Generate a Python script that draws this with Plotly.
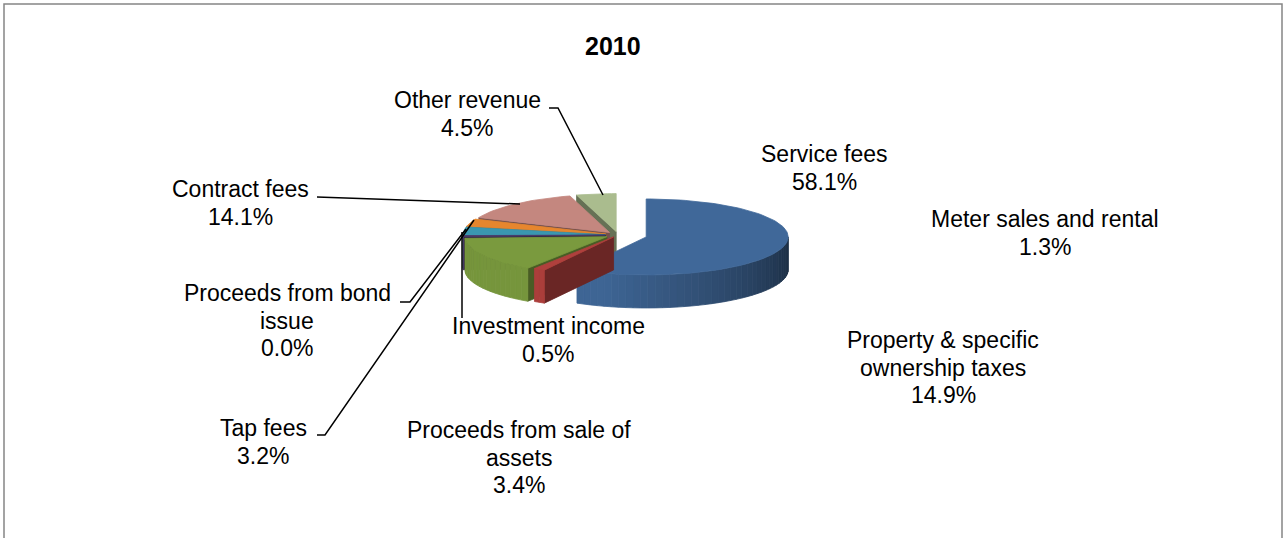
import math
import numpy as np
import plotly.graph_objects as go

# ---------------- data ----------------
title_text = "2010"
categories = [
    "Service fees",
    "Meter sales and rental",
    "Property & specific<br>ownership taxes",
    "Investment income",
    "Proceeds from sale of<br>assets",
    "Tap fees",
    "Proceeds from bond<br>issue",
    "Contract fees",
    "Other revenue",
]
shares = [58.1, 1.3, 14.9, 0.5, 3.4, 3.2, 0.0, 14.1, 4.5]
slice_colors = ["#406899", "#B0403D", "#7A9A3E", "#4B3B6B", "#3A97B0",
                "#E6862E", "#2C4D75", "#C4877F", "#AABC8E"]

# ---------------- layout / geometry parameters ----------------
W, H = 1286, 538
CX, CY, RX, RY, DEPTH = 618, 235, 142, 38, 33
explode = [0.205, 0.06, 0.09, 0.09, 0.09, 0.09, 0.09, 0.09, 0.09]
FONT = "Liberation Sans, Arial, sans-serif"
LINE_H = 27.5
label_pos = {
    0: (824, 154), 1: (1045, 219), 2: (943, 340), 3: (548, 326),
    4: (519, 430), 5: (263, 428), 6: (287, 293), 7: (240, 189), 8: (467, 100),
}
leader_paths = [
    "M549,108 L558,108 L603,195",
    "M317,197 L520,204",
    "M400,302 L410,302 L466,229",
    "M317,435 L325,435 L474,220",
    "M462,318 L462,232",
]


def hex_rgb(h):
    h = h.lstrip("#")
    return [int(h[i:i + 2], 16) for i in (0, 2, 4)]


def shade(h, f):
    r, g, b = hex_rgb(h)
    return "rgb(%d,%d,%d)" % tuple(max(0, min(255, round(c * f))) for c in (r, g, b))


def wall_factor(theta):
    t = (theta - 90.0) / 180.0
    return min(0.97, 0.42 + 0.55 * t / 0.6)


total = sum(shares)
bounds = np.concatenate([[0.0], np.cumsum(shares)]) / total * 360.0

fig = go.Figure()


def poly(pts, color):
    xs = [p[0] for p in pts] + [pts[0][0]]
    ys = [p[1] for p in pts] + [pts[0][1]]
    fig.add_trace(go.Scatter(x=xs, y=ys, mode="lines", fill="toself",
                             fillcolor=color, line=dict(color=color, width=0.8),
                             hoverinfo="skip", showlegend=False))


def project(U, V, h):
    return (CX + RX * U, CY - RY * V + h * DEPTH)


mids = [(bounds[i] + bounds[i + 1]) / 2 for i in range(len(shares))]
order = sorted([i for i in range(len(shares)) if shares[i] > 0],
               key=lambda i: -math.cos(math.radians(mids[i])))

for i in order:
    a, b = bounds[i], bounds[i + 1]
    m = math.radians(mids[i])
    oU, oV = explode[i] * math.sin(m), explode[i] * math.cos(m)

    def rim(th, h):
        r = math.radians(th)
        return project(oU + math.sin(r), oV + math.cos(r), h)

    def ctr(h):
        return project(oU, oV, h)

    col = slice_colors[i]
    # radial faces
    if math.sin(math.radians(a)) < -1e-6:
        poly([ctr(0), rim(a, 0), rim(a, 1), ctr(1)], shade(col, 0.6))
    if math.sin(math.radians(b)) > 1e-6:
        poly([ctr(0), rim(b, 0), rim(b, 1), ctr(1)], shade(col, 0.6))
    # outer wall (front half)
    lo, hi = max(a, 90.0), min(b, 270.0)
    if hi > lo:
        n = max(1, int(math.ceil((hi - lo) / 3.0)))
        edges = np.linspace(lo, hi, n + 1)
        for k in range(n):
            t1, t2 = edges[k], edges[k + 1]
            ts = np.linspace(t1, t2, 3)
            pts = [rim(t, 0) for t in ts] + [rim(t, 1) for t in ts[::-1]]
            poly(pts, shade(col, wall_factor((t1 + t2) / 2)))
    # top face
    n = max(2, int(math.ceil((b - a) / 2.0)) + 1)
    pts = [ctr(0)] + [rim(t, 0) for t in np.linspace(a, b, n)]
    poly(pts, col)

# ---------------- labels ----------------
annotations = [dict(x=613, y=46, xref="x", yref="y", text="<b>%s</b>" % title_text,
                    showarrow=False, font=dict(family=FONT, size=25, color="black"),
                    xanchor="center", yanchor="middle")]
for i, name in enumerate(categories):
    lines = name.split("<br>") + ["%.1f%%" % shares[i]]
    x0, y0 = label_pos[i]
    for k, ln in enumerate(lines):
        annotations.append(dict(x=x0, y=y0 + k * LINE_H, xref="x", yref="y", text=ln,
                                showarrow=False, font=dict(family=FONT, size=23, color="black"),
                                xanchor="center", yanchor="middle"))

shapes = [dict(type="path", path=p, xref="x", yref="y",
               line=dict(color="black", width=1.5)) for p in leader_paths]
shapes.append(dict(type="rect", xref="paper", yref="paper",
                   x0=4 / W, x1=1282 / W, y0=1 - 4 / H, y1=-0.1,
                   line=dict(color="#858585", width=1.5), fillcolor="rgba(0,0,0,0)"))

fig.update_layout(
    width=W, height=H, margin=dict(l=0, r=0, t=0, b=0),
    paper_bgcolor="white", plot_bgcolor="white",
    xaxis=dict(range=[0, W], visible=False, fixedrange=True),
    yaxis=dict(range=[H, 0], visible=False, fixedrange=True),
    annotations=annotations, shapes=shapes, showlegend=False,
)
fig.write_html("out.html", config={"displayModeBar": False},
               post_script="document.body.style.margin='0';document.body.style.overflow='hidden';")
